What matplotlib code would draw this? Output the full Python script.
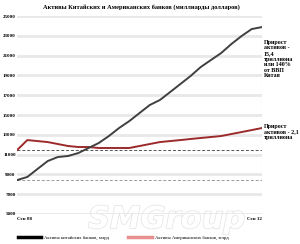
import numpy as np
import matplotlib
matplotlib.use("Agg")
import matplotlib.pyplot as plt
import matplotlib.patheffects as pe
from matplotlib.lines import Line2D

plt.rcParams['font.family'] = ['Liberation Serif', 'DejaVu Serif']

# assets, billions of dollars, every 2 months Sep 08 .. Sep 12
china = [8430, 8740, 9550, 10350, 10760, 10860, 11160, 11670, 12170, 12880,
         13690, 14390, 15200, 16010, 16520, 17320, 18130, 18940, 19850, 20560,
         21260, 22170, 22980, 23690, 23890]
usa = [11460, 12470, 12370, 12270, 12070, 11870, 11770, 11770, 11670, 11670,
       11670, 11670, 11870, 12070, 12270, 12370, 12470, 12580, 12680, 12780,
       12880, 13080, 13280, 13480, 13690]
yticks = [5000, 7000, 9000, 11000, 13000, 15000, 17000, 19000, 21000, 23000, 25000]
xlabels = ['Сен 08', 'Сен 12']
title = 'Активы Китайских и Американских банков (миллиарды долларов)'
note_china = 'Прирост\nактивов -\n15,4\nтриллиона\nили 140%\nот ВВП\nКитая'
note_usa = 'Прирост\nактивов - 2,1\nтриллиона'
legend_labels = ['Активы китайских банков, млрд', 'Активы Американских банков, млрд']

x = np.arange(len(china))

fig = plt.figure(figsize=(3.0, 2.44), dpi=100)

# watermark behind everything
fig.text(0.555, 0.1, 'SMGroup', ha='center', va='center', fontsize=22,
         style='italic', fontweight='bold', family='DejaVu Sans', color='white',
         path_effects=[pe.withStroke(linewidth=1.0, foreground='#e2e2e2')], zorder=-1)

ax = fig.add_axes([0.057, 0.123, 0.816, 0.811])
ax.set_zorder(1)
ax.patch.set_visible(False)

for yt in yticks:
    ax.axhline(yt, color='#e8e8e8', lw=2, zorder=0)

ax.axhline(usa[0], color='#555555', lw=0.7, ls=(0, (3, 2)), zorder=1)
ax.axhline(china[0], color='#999999', lw=0.7, ls=(0, (3, 2)), zorder=1)
ax.axvline(x[-1], ymin=0.12, ymax=1, color='#cccccc', lw=0.8, zorder=1)

ax.plot(x, usa, color='#9b2b2b', lw=1.4, zorder=3)
ax.plot(x, china, color='#404040', lw=1.4, zorder=3)

ax.set_xlim(x[0], x[-1])
ax.set_ylim(yticks[0], yticks[-1])
ax.set_yticks(yticks)
ax.set_yticklabels([str(v) for v in yticks], fontsize=3.6, fontweight='bold')
ax.tick_params(axis='y', length=0, pad=1)
ax.set_xticks([x[0], x[-1]])
ax.set_xticklabels(xlabels, fontsize=3.6, fontweight='bold')
ax.get_xticklabels()[0].set_ha('left')
ax.get_xticklabels()[1].set_ha('right')
ax.tick_params(axis='x', length=0, pad=2)
for s in ax.spines.values():
    s.set_visible(False)

fig.text(0.47, 0.972, title, ha='center', va='center', fontsize=4.6, fontweight='bold')
ax.text(x[-1] + 0.2, 22600, note_china, ha='left', va='top', fontsize=4.3,
        fontweight='bold', linespacing=1.15)
ax.text(x[-1] + 0.2, 14100, note_usa, ha='left', va='top', fontsize=4.3,
        fontweight='bold', linespacing=1.15)

handles = [Line2D([], [], color='black', lw=2.5),
           Line2D([], [], color='#e88f8f', lw=2.5)]
fig.legend(handles, legend_labels, loc='lower left', bbox_to_anchor=(0.045, 0.0),
           ncol=2, frameon=False, fontsize=3.4, handlelength=5, columnspacing=4,
           handletextpad=0.6)

fig.savefig('out.png', dpi=100)
